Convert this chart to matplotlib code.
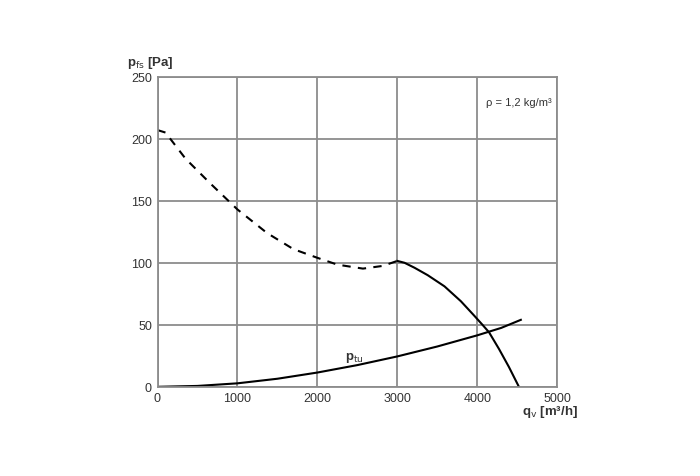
import matplotlib.pyplot as plt

plt.rcParams['font.family'] = ['Liberation Sans', 'DejaVu Sans']

# --- data ---
q_dash = [0, 100, 350, 660, 1000, 1370, 1700, 2000, 2250, 2570, 2820, 3000]
p_dash = [207, 205, 184, 164, 143, 124, 111, 104, 98.5, 95.3, 97.5, 101.5]

q_solid = [3000, 3090, 3215, 3380, 3590, 3795, 3960, 4065, 4147, 4272, 4396, 4521]
p_solid = [101.5, 100, 96, 90, 81, 69, 57.5, 50, 44, 30.5, 16, 0]

q_tu = [0, 500, 1000, 1500, 2000, 2500, 3000, 3500, 4000, 4300, 4545]
p_tu = [0, 0.7, 2.8, 6.5, 11.5, 17.5, 24.5, 32.5, 41.5, 47.5, 54]

x_ticks = [0, 1000, 2000, 3000, 4000, 5000]
y_ticks = [0, 50, 100, 150, 200, 250]

grid_col = "#8c8c8c"
text_col = "#333333"

fig = plt.figure(figsize=(7, 4.77), dpi=100)
ax = fig.add_axes([0.225, 0.187, 0.571, 0.65])

ax.plot(q_dash, p_dash, color="black", lw=1.5, ls=(0, (4, 3.5)))
ax.plot(q_solid, p_solid, color="black", lw=1.5)
ax.plot(q_tu, p_tu, color="black", lw=1.5)

ax.set_xlim(0, 5000)
ax.set_ylim(0, 250)
ax.set_xticks(x_ticks)
ax.set_yticks(y_ticks)
ax.grid(True, color=grid_col, lw=1.3)
ax.set_axisbelow(True)
for s in ax.spines.values():
    s.set_color(grid_col)
    s.set_linewidth(1.3)
ax.tick_params(length=0, labelsize=9, labelcolor=text_col, pad=4)

# labels
ax.text(2340, 24, r"p$_{\rm tu}$", fontsize=9.5, fontweight="bold", color=text_col,
        ha="left", va="center")
ax.text(4930, 230, "ρ = 1,2 kg/m³", fontsize=8, color=text_col,
        ha="right", va="center")
fig.text(127 / 700, 1 - 63 / 477, r"p$_{\rm fs}$ [Pa]", fontsize=9.5, fontweight="bold",
         color=text_col, ha="left", va="center")
fig.text(522 / 700, 1 - 412 / 477, r"q$_{\rm v}$ [m³/h]", fontsize=9.5, fontweight="bold",
         color=text_col, ha="left", va="center")

plt.savefig("out.png", dpi=100)
